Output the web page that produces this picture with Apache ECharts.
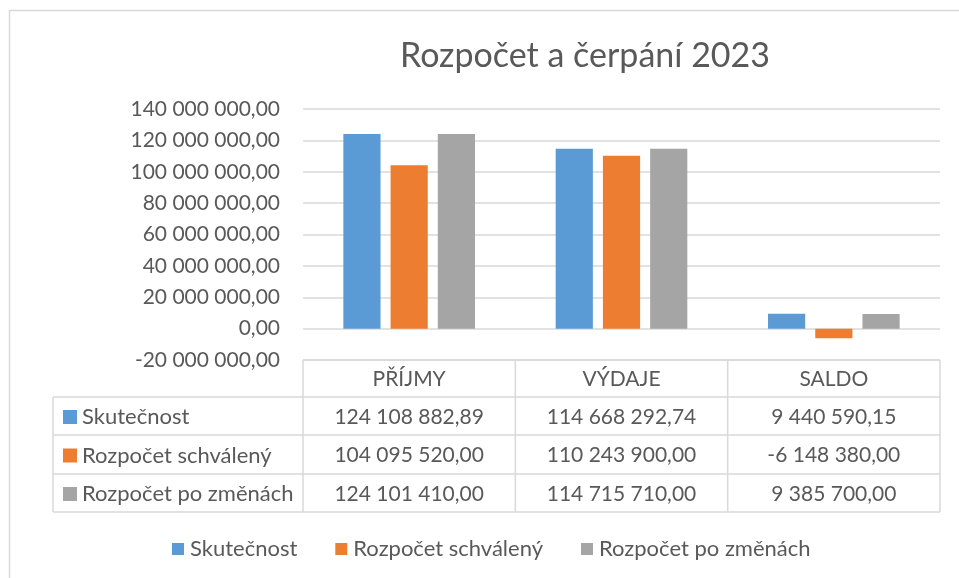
<!DOCTYPE html>
<html>
<head>
<meta charset="utf-8">
<script src="https://cdn.jsdelivr.net/npm/echarts@6/dist/echarts.min.js"></script>
<style>
  html, body { margin: 0; padding: 0; background: #fff; }
  #chart { width: 959px; height: 578px; }
</style>
</head>
<body>
<div id="chart"></div>
<script>
// data
var categories = ["PŘÍJMY", "VÝDAJE", "SALDO"];
var seriesNames = ["Skutečnost", "Rozpočet schválený", "Rozpočet po změnách"];
var skutecnost = [124108882.89, 114668292.74, 9440590.15];
var schvaleny = [104095520.00, 110243900.00, -6148380.00];
var poZmenach = [124101410.00, 114715710.00, 9385700.00];
var colors = ["#5B9BD5", "#ED7D31", "#A5A5A5"];

var textColor = "#595959";
var lineColor = "#D9D9D9";
var font = "Lato, 'Open Sans', sans-serif";
var fs = 21;      // numbers
var fsName = 22;  // series names

// plot area (px)
var gl = 303, gr = 940, gt = 109, gb = 360;
// table row boundaries
var rows = [360, 397, 435, 474, 512];
var tableLeft = 53;

function fmt(v) {
  var neg = v < 0;
  var parts = Math.abs(v).toFixed(2).split(".");
  var i = parts[0].replace(/\B(?=(\d{3})+(?!\d))/g, " ");
  return (neg ? "-" : "") + i + "," + parts[1];
}

var myChart = echarts.init(document.getElementById("chart"));

// data table under the plot
var allData = [skutecnost, schvaleny, poZmenach];
var colW = (gr - gl) / categories.length;
var graphics = [];

// outer frame
graphics.push({
  type: "rect",
  shape: { x: 9.5, y: 10.5, width: 1000, height: 700 },
  style: { fill: "none", stroke: lineColor, lineWidth: 1.5 },
  silent: true
});

function hline(x1, x2, y) {
  graphics.push({
    type: "line",
    shape: { x1: x1, y1: y, x2: x2, y2: y },
    style: { stroke: lineColor, lineWidth: 1.5 },
    silent: true
  });
}
function vline(x, y1, y2) {
  graphics.push({
    type: "line",
    shape: { x1: x, y1: y1, x2: x, y2: y2 },
    style: { stroke: lineColor, lineWidth: 1.5 },
    silent: true
  });
}

hline(gl, gr, rows[0]);
for (var r = 1; r < rows.length; r++) hline(tableLeft, gr, rows[r]);
vline(tableLeft, rows[1], rows[4]);
for (var c = 0; c <= categories.length; c++) vline(gl + c * colW, rows[0], rows[4]);

categories.forEach(function (cat, c) {
  graphics.push({
    type: "text",
    x: gl + c * colW + colW / 2,
    y: (rows[0] + rows[1]) / 2 + 1,
    style: { text: cat, fill: textColor, fontSize: fs, fontFamily: font, align: "center", verticalAlign: "middle" },
    silent: true
  });
});

seriesNames.forEach(function (name, s) {
  var cy = (rows[s + 1] + rows[s + 2]) / 2 + 1;
  graphics.push({
    type: "rect",
    shape: { x: 63, y: cy - 7, width: 14, height: 14 },
    style: { fill: colors[s] },
    silent: true
  });
  graphics.push({
    type: "text",
    x: 82,
    y: cy,
    style: { text: name, fill: textColor, fontSize: fsName, fontFamily: font, align: "left", verticalAlign: "middle" },
    silent: true
  });
  allData[s].forEach(function (v, c) {
    graphics.push({
      type: "text",
      x: gl + c * colW + colW / 2,
      y: cy,
      style: { text: fmt(v), fill: textColor, fontSize: fs, fontFamily: font, align: "center", verticalAlign: "middle" },
      silent: true
    });
  });
});

myChart.setOption({
  color: colors,
  animation: false,
  title: {
    text: "Rozpočet a čerpání 2023",
    left: 580,
    top: 34,
    textAlign: "center",
    textStyle: { color: textColor, fontSize: 34, fontWeight: "normal", fontFamily: font }
  },
  legend: {
    data: seriesNames,
    left: 172,
    top: 538,
    padding: 0,
    icon: "rect",
    itemWidth: 12,
    itemHeight: 12,
    itemGap: 38,
    textStyle: { color: textColor, fontSize: fsName, fontFamily: font, padding: [0, 0, 0, 1] }
  },
  grid: {
    left: gl,
    right: 959 - gr,
    top: gt,
    bottom: 578 - gb,
    containLabel: false
  },
  xAxis: {
    type: "category",
    data: categories,
    axisLine: { show: false },
    axisTick: { show: false },
    axisLabel: { show: false },
    splitLine: { show: false }
  },
  yAxis: {
    type: "value",
    min: -20000000,
    max: 140000000,
    interval: 20000000,
    axisLine: { show: false },
    axisTick: { show: false },
    axisLabel: {
      color: textColor,
      fontSize: fs,
      fontFamily: font,
      margin: 23,
      formatter: function (v) { return fmt(v); }
    },
    splitLine: { lineStyle: { color: lineColor, width: 1.5 } }
  },
  series: [
    { name: seriesNames[0], type: "bar", data: skutecnost, barGap: "27%", barCategoryGap: "38%" },
    { name: seriesNames[1], type: "bar", data: schvaleny, barGap: "27%", barCategoryGap: "38%" },
    { name: seriesNames[2], type: "bar", data: poZmenach, barGap: "27%", barCategoryGap: "38%" }
  ],
  graphic: graphics
});
</script>
</body>
</html>
